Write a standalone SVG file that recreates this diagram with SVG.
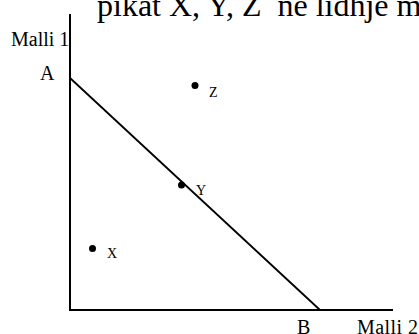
<svg xmlns="http://www.w3.org/2000/svg" width="419" height="334" viewBox="0 0 419 334">
<style>
text{font-family:"Liberation Serif","Times New Roman",serif;fill:#000}
.ax{stroke:#000;stroke-width:2;fill:none}
.ln{stroke:#000;stroke-width:1.8;fill:none}
.big{font-size:20px}
.sm{font-size:14px}
.ttl{font-size:32px}
</style>
<rect width="419" height="334" fill="#fff"/>
<text class="ttl" x="97" y="16" xml:space="preserve">pikat X, Y, Z  ne lidhje me</text>
<g id="axes">
<path class="ax" d="M70,14 V310 H393"/>
</g>
<g id="connectors">
<path class="ln" d="M70,78 L320,310"/>
</g>
<g id="label-malli1"><text class="big" x="11" y="46">Malli 1</text></g>
<g id="label-A"><text class="big" x="40" y="80">A</text></g>
<g id="label-B"><text class="big" x="297" y="334">B</text></g>
<g id="label-malli2"><text class="big" x="357" y="334" textLength="61">Malli 2</text></g>
<g id="point-Z"><circle cx="195" cy="85.5" r="3.5"/><text class="sm" x="209" y="96.5">Z</text></g>
<g id="point-Y"><circle cx="181.5" cy="185" r="3.5"/><text class="sm" x="196" y="195">Y</text></g>
<g id="point-X"><circle cx="92.5" cy="248.5" r="3.5"/><text class="sm" x="107" y="258">X</text></g>
</svg>
